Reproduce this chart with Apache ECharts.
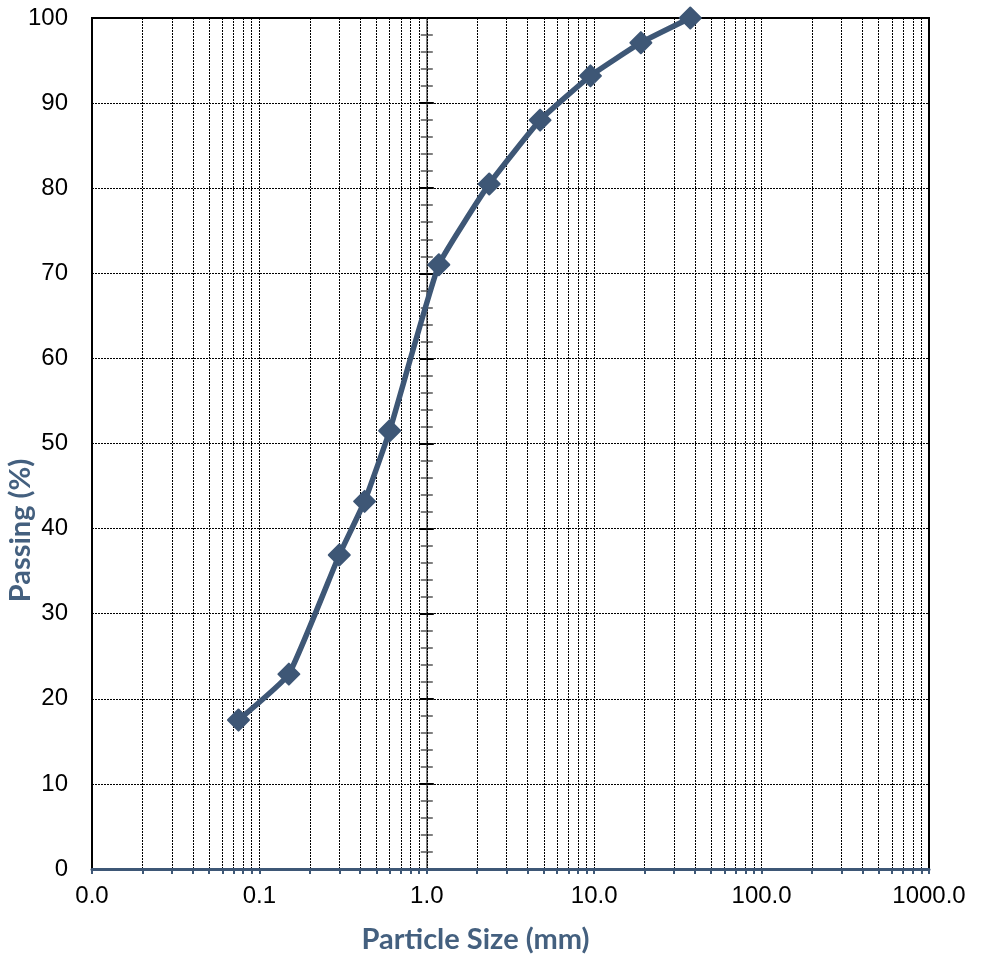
<!DOCTYPE html>
<html>
<head>
<meta charset="utf-8">
<script src="https://cdn.jsdelivr.net/npm/echarts@6/dist/echarts.min.js"></script>
<style>
  html, body { margin: 0; padding: 0; background: #fff; }
  #chart { width: 987px; height: 957px; }
</style>
</head>
<body>
<div id="chart"></div>
<script>
// sieve analysis data
const sieveSizes = [0.075, 0.15, 0.3, 0.425, 0.6, 1.18, 2.36, 4.75, 9.5, 19, 37.5];
const passing = [17.5, 22.9, 36.9, 43.2, 51.5, 71.0, 80.5, 88.0, 93.2, 97.1, 100];

// log axis: labelled decades, minor ticks at 2..9 of each decade
const decades = [0.01, 0.1, 1, 10, 100, 1000];
const multipliers = [1, 2, 3, 4, 5, 6, 7, 8, 9];
const xTickValues = [];
decades.forEach((d, i) => {
  if (i === decades.length - 1) { xTickValues.push(d); return; }
  multipliers.forEach((m) => xTickValues.push(+(d * m).toPrecision(3)));
});

const yMin = 0;
const yMax = 100;
const yInterval = 10;

const slate = "#3e5776";
const titleColor = "#44607f";
const font = "'Liberation Sans', Arial, sans-serif";
const titleFont = "Lato, 'Open Sans', sans-serif";

const chart = echarts.init(document.getElementById("chart"));

const crossAxis = (inside) => ({
  type: "value",
  min: yMin,
  max: yMax,
  interval: yInterval,
  position: "left",
  offset: 0,
  axisLine: { show: true, lineStyle: { color: "#808080", width: 2 } },
  axisTick: { show: true, inside: inside, length: 7, lineStyle: { color: "#000", width: 2 } },
  minorTick: { show: true, splitNumber: 5, length: 6, lineStyle: { color: "#555", width: 1.5 } },
  axisLabel: { show: false },
  splitLine: { show: false },
  minorSplitLine: { show: false },
});

const option = {
  animation: false,
  backgroundColor: "#fff",
  grid: {
    left: 92,
    right: 58,
    top: 18,
    bottom: 88,
    show: true,
    borderColor: "#000",
    borderWidth: 2,
    containLabel: false,
    outerBoundsMode: "none",
  },
  xAxis: [
    {
      type: "log",
      logBase: 10,
      min: 0.01,
      max: 1000,
      position: "bottom",
      name: "Particle Size (mm)",
      nameLocation: "middle",
      nameGap: 56,
      nameMoveOverlap: false,
      nameTextStyle: {
        fontFamily: titleFont,
        fontWeight: "bold",
        fontSize: 29,
        color: titleColor,
        padding: [0, 70, 0, 0],
      },
      axisLine: { show: true, onZero: false, lineStyle: { color: slate, width: 3 } },
      axisTick: {
        show: true,
        customValues: xTickValues,
        length: 5,
        lineStyle: { color: slate, width: 2 },
      },
      axisLabel: {
        customValues: decades,
        margin: 15,
        fontFamily: font,
        fontSize: 24,
        color: "#000",
        formatter: (v) => Number(v).toFixed(1),
      },
      splitLine: {
        show: true,
        lineStyle: { color: "#000", width: 1, type: [2, 1] },
      },
      z: 3,
    },
  ],
  yAxis: [
    {
      type: "value",
      min: yMin,
      max: yMax,
      interval: yInterval,
      position: "left",
      name: "Passing (%)",
      nameLocation: "middle",
      nameGap: 57,
      nameMoveOverlap: false,
      nameTextStyle: {
        fontFamily: titleFont,
        fontWeight: "bold",
        fontSize: 29,
        color: titleColor,
        padding: [0, 174, 0, 0],
      },
      axisLine: { show: true, onZero: false, lineStyle: { color: "#000", width: 2 } },
      axisTick: { show: false },
      axisLabel: {
        margin: 24,
        fontFamily: font,
        fontSize: 24,
        color: "#000",
      },
      splitLine: {
        show: true,
        lineStyle: { color: "#000", width: 1, type: [2, 1] },
      },
    },
    crossAxis(false),
    crossAxis(true),
  ],
  series: [
    {
      name: "Passing",
      type: "line",
      xAxisIndex: 0,
      yAxisIndex: 0,
      smooth: 0.12,
      data: sieveSizes.map((s, i) => [s, passing[i]]),
      symbol: "diamond",
      symbolSize: 21,
      lineStyle: { color: slate, width: 5.5 },
      itemStyle: { color: slate, borderColor: slate, borderWidth: 2, borderJoin: "round" },
      z: 5,
    },
  ],
};

chart.setOption(option);

// vertical axis crosses the x axis at 1.0 mm
const crossPx = chart.convertToPixel({ xAxisIndex: 0 }, 1);
const crossOffset = option.grid.left - crossPx;
chart.setOption({
  yAxis: [{}, { offset: crossOffset }, { offset: crossOffset }],
});
</script>
</body>
</html>
